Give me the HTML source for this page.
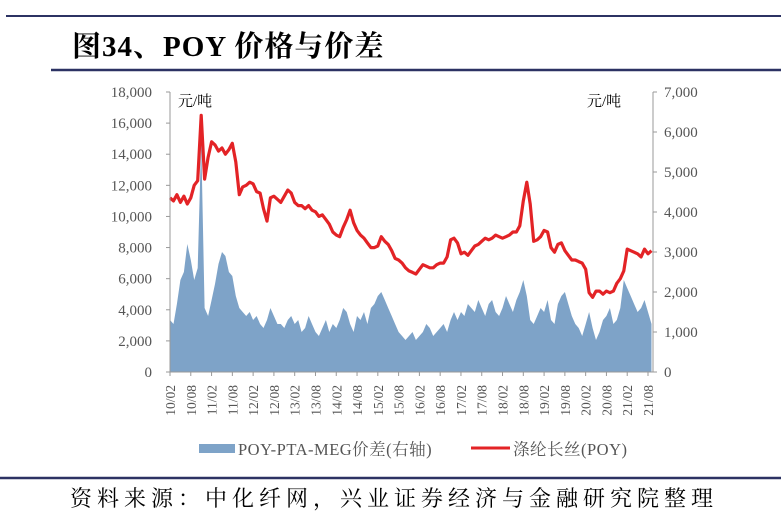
<!DOCTYPE html>
<html><head><meta charset="utf-8"><style>
body{margin:0;background:#fff;width:781px;height:526px;overflow:hidden;font-family:"Liberation Serif","Noto Serif CJK SC",serif}
</style></head><body>
<svg width="781" height="526" xmlns="http://www.w3.org/2000/svg">
<line x1="6" y1="16" x2="781" y2="16" stroke="#2c3263" stroke-width="2"/>
<text x="72" y="56" font-size="29" font-weight="bold" fill="#000" letter-spacing="1" font-family="Liberation Serif,Noto Serif CJK SC,serif">图34、POY 价格与价差</text>
<line x1="51" y1="70" x2="781" y2="70" stroke="#2c3263" stroke-width="2.5"/>
<g id="plot"></g>
<line x1="0" y1="478" x2="781" y2="478" stroke="#2c3263" stroke-width="2.5"/>
<text x="70" y="506" font-size="22" fill="#000" letter-spacing="5" font-family="Liberation Serif,Noto Serif CJK SC,serif">资料来源：中化纤网，兴业证券经济与金融研究院整理</text>
</svg>
<script>
const startYear = 2010, startMonth = 2;
const poyPrice = [11200,11000,11400,10900,11300,10800,11200,12000,12300,16500,12400,
13800,14800,14600,14200,14400,14000,14300,14700,13500,11400,11900,12000,
12200,12100,11600,11500,10500,9700,11200,11300,11100,10900,11300,11700,
11500,10900,10700,10700,10500,10700,10400,10300,10000,10100,9800,9500,
9000,8800,8700,9300,9800,10400,9600,9100,8800,8600,8300,8000,
8000,8100,8700,8400,8200,7800,7300,7200,7000,6700,6500,6400,
6300,6600,6900,6800,6700,6700,6900,7000,7000,7400,8500,8600,
8300,7600,7700,7500,7800,8100,8200,8400,8600,8500,8600,8800,
8700,8600,8700,8800,9000,9000,9400,11000,12200,10800,8400,8500,
8700,9100,9000,8000,7700,8200,8300,7800,7500,7200,7200,7100,
7000,6600,5100,4800,5200,5200,5000,5200,5100,5200,5700,6000,
6500,7900,7800,7700,7600,7400,7900,7600,7800];
const spread = [1300,1200,1700,2300,2500,3200,2800,2300,2600,5800,1600,
1400,1800,2200,2700,3000,2900,2500,2400,1900,1600,1500,1400,
1500,1300,1400,1200,1100,1300,1600,1400,1200,1200,1100,1300,
1400,1200,1300,1000,1100,1400,1200,1000,900,1100,1300,1000,
1200,1100,1300,1600,1500,1200,1000,1400,1300,1500,1200,1600,
1700,1900,2000,1800,1600,1400,1200,1000,900,800,900,1000,
800,900,1000,1200,1100,900,1000,1100,1200,1000,1300,1500,
1300,1500,1400,1700,1600,1500,1800,1600,1400,1700,1800,1500,
1400,1600,1900,1700,1500,1800,2000,2300,1900,1300,1200,1400,
1600,1500,1800,1300,1200,1700,1900,2000,1700,1400,1200,1100,
900,1200,1500,1100,800,1000,1300,1400,1600,1200,1300,1600,
2300,2100,1900,1700,1500,1600,1800,1500,1200];
const leftTicks = [0,2000,4000,6000,8000,10000,12000,14000,16000,18000];
const rightTicks = [0,1000,2000,3000,4000,5000,6000,7000];
const xLabels = ["10/02","10/08","11/02","11/08","12/02","12/08","13/02","13/08","14/02","14/08","15/02","15/08","16/02","16/08","17/02","17/08","18/02","18/08","19/02","19/08","20/02","20/08","21/02","21/08"];

const NS="http://www.w3.org/2000/svg";
const g=document.getElementById('plot');
const X0=170,X1=653,YT=92,YB=372;
const xs=i=>X0+i*(648-X0)/138;
const yl=v=>YB-v/18000*(YB-YT);
const yr=v=>YB-v/7000*(YB-YT);
function mk(t,a){const e=document.createElementNS(NS,t);for(const k in a)e.setAttribute(k,a[k]);g.appendChild(e);return e;}
let d=`M${xs(0)},${YB}`;
spread.forEach((v,i)=>{d+=` L${xs(i).toFixed(1)},${yr(v).toFixed(1)}`;});
d+=` L${xs(spread.length-1)},${YB} Z`;
const ar=mk('path',{d:d,fill:'#7ea3c8'});


let ld='';
poyPrice.forEach((v,i)=>{ld+=(i?' L':'M')+xs(i).toFixed(1)+','+yl(v).toFixed(1);});
const ln=mk('path',{d:ld,fill:'none',stroke:'#e32326','stroke-width':3.2,'stroke-linejoin':'round'});


const la=mk('line',{x1:X0,y1:YT,x2:X0,y2:YB,stroke:'#999'});


const ra=mk('line',{x1:X1,y1:YT,x2:X1,y2:YB,stroke:'#999'});


const ba=mk('line',{x1:X0-4,y1:YB,x2:X1+4,y2:YB,stroke:'#999'});


leftTicks.forEach(v=>{
  mk('line',{x1:X0-4,y1:yl(v),x2:X0,y2:yl(v),stroke:'#999'});
  const t=mk('text',{x:152,y:yl(v)+5,'text-anchor':'end','font-size':15,fill:'#555'});
  t.textContent=v.toLocaleString('en-US');
  
  
});
rightTicks.forEach(v=>{
  mk('line',{x1:X1,y1:yr(v),x2:X1+4,y2:yr(v),stroke:'#999'});
  const t=mk('text',{x:664,y:yr(v)+5,'font-size':15,fill:'#555'});
  t.textContent=v.toLocaleString('en-US');
  
  
});
xLabels.forEach((s,k)=>{
  const x=xs(k*6);
  mk('line',{x1:x,y1:YB,x2:x,y2:YB+4,stroke:'#999'});
  const t=mk('text',{x:0,y:0,'text-anchor':'end','font-size':13.5,fill:'#555'});
  t.setAttribute('transform',`translate(${x+5},385) rotate(-90)`);
  t.textContent=s;
  
  
});
const u1=mk('text',{x:178,y:106,'font-size':15,fill:'#000'});u1.textContent='元/吨';


const u2=mk('text',{x:587,y:106,'font-size':15,fill:'#000'});u2.textContent='元/吨';


const l1=mk('rect',{x:199,y:444,width:36,height:9,fill:'#7ea3c8'});


const lt1=mk('text',{x:238,y:455,'font-size':16.5,fill:'#555','letter-spacing':0.5});lt1.textContent='POY-PTA-MEG价差(右轴)';


const l2=mk('line',{x1:471,y1:448,x2:510,y2:448,stroke:'#e32326','stroke-width':3});


const lt2=mk('text',{x:513,y:455,'font-size':16.5,fill:'#555','letter-spacing':0.5});lt2.textContent='涤纶长丝(POY)';


</script>
</body></html>
